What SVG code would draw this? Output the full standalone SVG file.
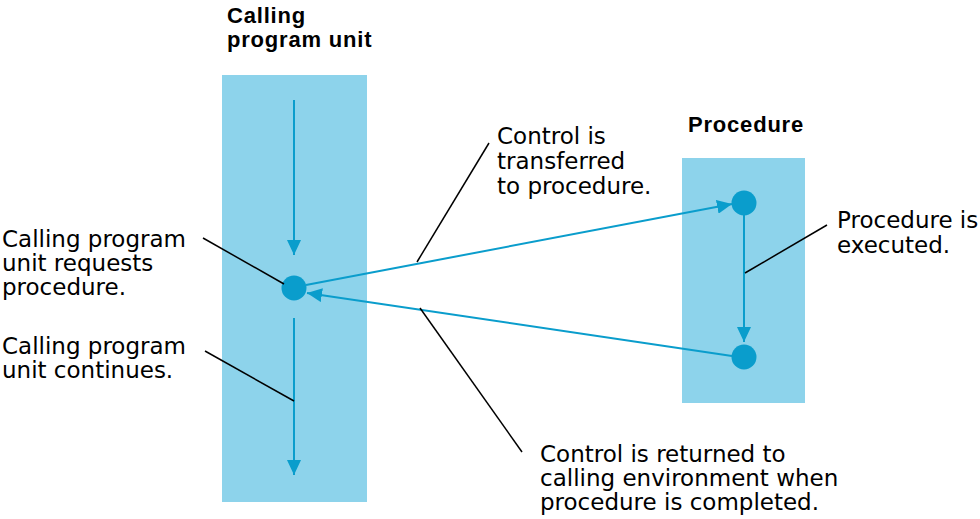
<svg xmlns="http://www.w3.org/2000/svg" width="980" height="519" viewBox="0 0 980 519">
<defs>
<style>
.box{fill:#8dd3eb}
.flow{stroke:#0a9dcc;stroke-width:2;fill:none}
.dot{fill:#0a9dcc}
.lead{stroke:#000;stroke-width:1.5;fill:none}
.t{font-family:"DejaVu Sans",sans-serif;font-size:23px;fill:#000}
.h{font-family:"Liberation Sans",Arial,sans-serif;font-weight:bold;font-size:22px;letter-spacing:0.8px;fill:#000}
</style>
<marker id="ah" markerUnits="userSpaceOnUse" markerWidth="16" markerHeight="14" refX="15" refY="7" orient="auto">
<path d="M0,0 L15,7 L0,14 Z" fill="#0a9dcc"/>
</marker>
</defs>
<rect width="980" height="519" fill="#fff"/>
<g id="calling-unit">
<rect class="box" x="222" y="75" width="145" height="427"/>
<text class="h" x="227" y="23">Calling</text>
<text class="h" x="227" y="47">program unit</text>
<circle class="dot" cx="294" cy="288" r="12.5"/>
</g>
<g id="procedure">
<rect class="box" x="682" y="158" width="123" height="245"/>
<text class="h" x="688" y="132">Procedure</text>
<circle class="dot" cx="744" cy="203" r="12.5"/>
<circle class="dot" cx="744" cy="357" r="12.5"/>
</g>
<g id="connectors">
<line class="flow" x1="294" y1="100" x2="294" y2="255" marker-end="url(#ah)"/>
<line class="flow" x1="294" y1="318" x2="294" y2="475" marker-end="url(#ah)"/>
<line class="flow" x1="744" y1="215" x2="744" y2="342" marker-end="url(#ah)"/>
<line class="flow" x1="306" y1="285" x2="732" y2="204" marker-end="url(#ah)"/>
<line class="flow" x1="732" y1="356" x2="307" y2="293" marker-end="url(#ah)"/>
<line class="lead" x1="203" y1="238" x2="284" y2="284"/>
<line class="lead" x1="205" y1="351" x2="294" y2="401"/>
<line class="lead" x1="489" y1="143" x2="417" y2="262"/>
<line class="lead" x1="827" y1="225" x2="745" y2="273"/>
<line class="lead" x1="420" y1="308" x2="522" y2="452"/>
</g>
<g id="label-requests">
<text class="t" x="2" y="247">Calling program</text>
<text class="t" x="2" y="271">unit requests</text>
<text class="t" x="2" y="295">procedure.</text>
</g>
<g id="label-continues">
<text class="t" x="2" y="354">Calling program</text>
<text class="t" x="2" y="378">unit continues.</text>
</g>
<g id="label-transferred">
<text class="t" x="497" y="144">Control is</text>
<text class="t" x="497" y="169">transferred</text>
<text class="t" x="497" y="194">to procedure.</text>
</g>
<g id="label-executed">
<text class="t" x="837" y="228">Procedure is</text>
<text class="t" x="837" y="253">executed.</text>
</g>
<g id="label-returned">
<text class="t" x="540" y="462">Control is returned to</text>
<text class="t" x="540" y="486">calling environment when</text>
<text class="t" x="540" y="510">procedure is completed.</text>
</g>
</svg>
